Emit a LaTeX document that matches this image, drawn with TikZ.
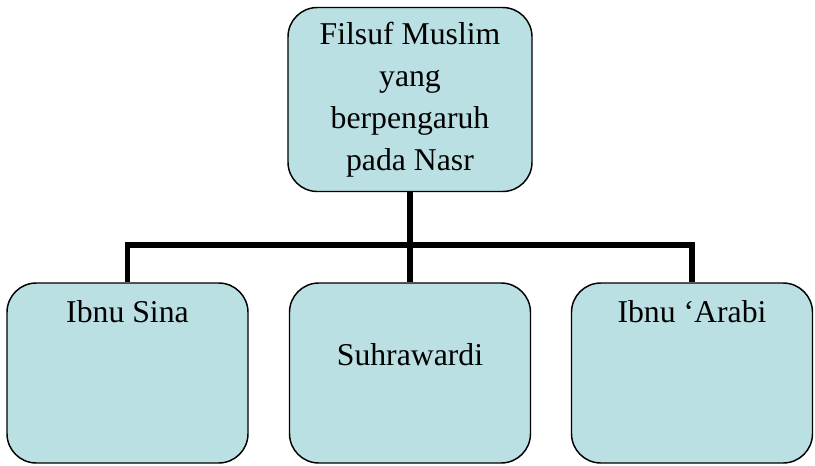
\documentclass[tikz,border=0pt]{standalone}
\usepackage{fontspec}
\setmainfont{Liberation Serif}
\definecolor{boxfill}{HTML}{BBE0E3}
\begin{document}
\begin{tikzpicture}[x=0.75pt,y=-0.75pt,
  box/.style={draw=black, line width=1.1pt, fill=boxfill, rounded corners=22pt, inner sep=0pt},
  topbox/.style={box, minimum width=183pt, minimum height=138pt, align=center, font=\fontsize{23.8}{31.5}\selectfont},
  leaf/.style={box, minimum width=180.75pt, minimum height=135pt},
  lbl/.style={anchor=base, inner sep=0pt, font=\fontsize{23.8}{31.5}\selectfont},
  conn/.style={line width=4pt, line join=miter}]
\useasboundingbox (0,0) rectangle (815,465);
\node[topbox] (top) at (410,99.5) {Filsuf Muslim\\yang\\berpengaruh\\pada Nasr};
\node[leaf] (ibnu) at (127.5,373) {};
\node[leaf] (suh) at (410,373) {};
\node[leaf] (arabi) at (692,373) {};
\coordinate (bus) at (410,245);
\node[lbl] (t1) at ([yshift=-30pt]ibnu.north) {Ibnu Sina};
\node[lbl] (t2) at ([yshift=6pt]suh.center) {Suhrawardi};
\node[lbl] (t3) at ([yshift=-30pt]arabi.north) {Ibnu ‘Arabi};
\draw[conn] (top.south) -- (suh.north);
\draw[conn] (ibnu.north) -- (ibnu.north |- bus) -- (arabi.north |- bus) -- (arabi.north);
\end{tikzpicture}
\end{document}
